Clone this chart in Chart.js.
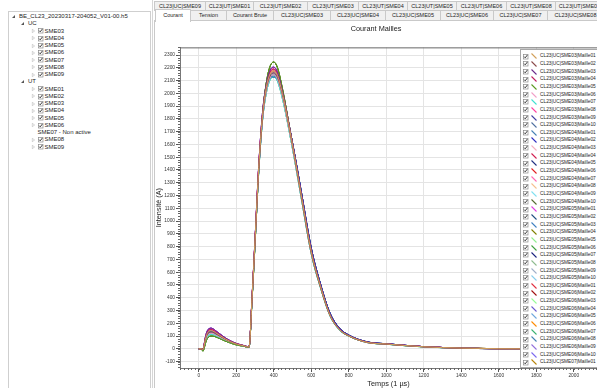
<!DOCTYPE html>
<html>
<head>
<meta charset="utf-8">
<title>Courant Mailles</title>
<script src="https://cdn.jsdelivr.net/npm/chart.js@4.4.1/dist/chart.umd.min.js"></script>
<style>
  body { margin:0; width:597px; height:388px; overflow:hidden; background:#fff; position:relative;
         font-family:"Liberation Sans", Arial, sans-serif; color:#1e1e1e; }
  #tree { position:absolute; left:8px; top:11px; width:141px; height:390px; border:1px solid #cfcfcf; background:#fff; }
  #sep { position:absolute; left:152px; top:0; width:1px; height:388px; background:#d6d6d6; }
  .node { position:absolute; height:7px; line-height:7px; font-size:6px; white-space:nowrap; color:#1e1e1e; }
  .tab { position:absolute; box-sizing:border-box; border:1px solid #c9c9c9; background:#f0f0f0; font-size:5.5px;
         text-align:center; white-space:nowrap; overflow:hidden; color:#1e1e1e; }
  #pane { position:absolute; left:154px; top:20px; width:450px; height:372px; border-left:1px solid #c9c9c9;
          border-top:1px solid #c9c9c9; background:#fff; }
  #chartBox { position:absolute; left:155px; top:20px; width:442px; height:368px; }
  #legend { position:absolute; left:520px; top:49px; width:80px; height:319px; overflow:hidden; background:#fff;
            border:1px solid #a9a9a9; box-sizing:border-box; }
  .item { position:absolute; left:0; height:7.65px; width:80px; font-size:4.8px; line-height:7.65px; white-space:nowrap; }
  .item span { position:absolute; left:19px; top:0; }
  svg { position:absolute; overflow:visible; }
</style>
</head>
<body>
<div id="tree"></div>
<div id="sep"></div>
<div id="tabs"></div>
<div id="pane"></div>
<div id="chartBox"><canvas id="chart" width="442" height="368"></canvas></div>
<div id="legend"></div>

<script>
// time axis (µs) shared by all series
const times = [0, 15, 22, 28, 35, 45, 55, 65, 75, 90,
  110, 140, 170, 205, 240, 268, 285, 300, 320, 340,
  360, 380, 400, 420, 450, 480, 510, 550, 600, 650,
  700, 750, 800, 900, 1000, 1200, 1400, 1600, 1800, 2000];

// current curves (A)
const curveA = [0, 0, -2, 30, 90, 140, 158, 162, 158, 142,
  120, 88, 62, 40, 26, 16, 430, 860, 1440, 1850,
  2070, 2180, 2205, 2165, 1995, 1770, 1530, 1190, 770, 490,
  268, 155, 104, 52, 39, 17, 6, 1, 0, 0];
const curveB = [0, 0, -3, 26, 82, 130, 148, 152, 148, 134,
  113, 83, 59, 38, 25, 15, 425, 850, 1430, 1835,
  2055, 2165, 2190, 2150, 1985, 1760, 1520, 1180, 765, 488,
  266, 154, 103, 51, 38, 17, 6, 1, 0, 0];
const curveC = [0, 0, -5, 22, 74, 120, 138, 142, 139, 126,
  107, 79, 56, 36, 24, 14, 420, 845, 1420, 1825,
  2045, 2150, 2175, 2140, 1975, 1755, 1515, 1175, 760, 485,
  264, 152, 102, 50, 38, 16, 6, 1, 0, 0];
const curveD = [0, 0, -6, 18, 66, 110, 128, 132, 130, 118,
  101, 75, 54, 35, 23, 13, 415, 835, 1405, 1810,
  2030, 2135, 2160, 2125, 1965, 1745, 1505, 1165, 752, 480,
  262, 151, 101, 50, 37, 16, 5, 1, 0, 0];
const curveE = [0, 0, -8, 14, 58, 100, 118, 122, 120, 110,
  95, 71, 51, 33, 22, 12, 410, 825, 1395, 1795,
  2015, 2120, 2145, 2110, 1950, 1730, 1495, 1158, 748, 478,
  260, 150, 100, 49, 37, 16, 5, 1, 0, 0];
const curveF = [0, 0, -10, 10, 50, 90, 108, 112, 111, 103,
  89, 67, 48, 31, 21, 11, 405, 820, 1385, 1785,
  2000, 2105, 2130, 2095, 1935, 1720, 1485, 1150, 742, 474,
  258, 148, 99, 49, 36, 15, 5, 1, 0, 0];
const curveG = [0, 0, -18, 0, 40, 80, 96, 100, 100, 94,
  82, 62, 45, 29, 20, 10, 400, 815, 1400, 1830,
  2080, 2210, 2245, 2200, 2010, 1770, 1520, 1170, 755, 480,
  262, 150, 100, 50, 37, 16, 6, 1, 0, 0];
const curveH = [0, 0, -4, 20, 70, 115, 134, 138, 135, 122,
  104, 77, 55, 36, 24, 14, 410, 830, 1400, 1800,
  2020, 2115, 2130, 2105, 1960, 1760, 1535, 1205, 790, 505,
  280, 163, 108, 54, 40, 17, 6, 1, 0, 0];
const curves = { A: curveA, B: curveB, C: curveC, D: curveD, E: curveE, F: curveF, G: curveG, H: curveH };

// series: module / maille names, colours and which curve each one follows
const modules = ['SME03', 'SME04', 'SME05', 'SME06'];
const mailles = ['Maille01', 'Maille02', 'Maille03', 'Maille04', 'Maille05',
  'Maille06', 'Maille07', 'Maille08', 'Maille09', 'Maille10'];
const seriesColors = [
  '#d2a05a', '#8b4a4a', '#6a2a8a', '#c02060', '#5a9a20', '#f0a0c8', '#40e0d0', '#ff40a0', '#4040a0', '#5070a0',
  '#4682b4', '#3030c0', '#f4b0c0', '#d02050', '#203080', '#e02020', '#ff69b4', '#f5c090', '#80e0f0', '#556b2f',
  '#e040e0', '#205080', '#4080c0', '#808000', '#90ee90', '#40a040', '#1a237e', '#8fbc8f', '#a0b0c8', '#87ceeb',
  '#e03040', '#a01010', '#98fb98', '#6a5acd', '#6fa8dc', '#ff8c00', '#3cb371', '#4682b4', '#9370db', '#7b68ee',
  '#b8860b'];
const seriesCurve = 'CDABGEFBHD' + 'EHCBHCDEFG' + 'AHEGFGHFED' + 'BCGAEDFHAA' + 'C';

const xTicks = [0, 200, 400, 600, 800, 1000, 1200, 1400, 1600, 1800, 2000];
const yTicks = [-100, 0, 100, 200, 300, 400, 500, 600, 700, 800, 900, 1000, 1100, 1200,
  1300, 1400, 1500, 1600, 1700, 1800, 1900, 2000, 2100, 2200, 2300];

// tab captions
const tabRow1 = ['CL23|UC|SME09', 'CL23|UT|SME01', 'CL23|UT|SME02', 'CL23|UT|SME03', 'CL23|UT|SME04',
  'CL23|UT|SME05', 'CL23|UT|SME06', 'CL23|UT|SME08', 'CL23|UT|SME09'];
const tabRow2 = ['Courant', 'Tension', 'Courant Brute', 'CL23|UC|SME03', 'CL23|UC|SME04',
  'CL23|UC|SME05', 'CL23|UC|SME06', 'CL23|UC|SME07', 'CL23|UC|SME08'];
const tabEdges1 = [154, 205, 253, 307, 358, 407, 456, 506, 555, 603];
const tabEdges2 = [155, 190, 226, 273, 330, 385, 440, 493, 547, 603];

// tree rows: [level, text, checked]
const treeRows = [
  [0, 'BE_CL23_20230317-204052_V01-00.h5'],
  [1, 'UC'],
  [2, 'SME03', true], [2, 'SME04', true], [2, 'SME05', true], [2, 'SME06', true],
  [2, 'SME07', true], [2, 'SME08', true], [2, 'SME09', true],
  [1, 'UT'],
  [2, 'SME01', true], [2, 'SME02', true], [2, 'SME03', true], [2, 'SME04', true],
  [2, 'SME05', true], [2, 'SME06', true],
  [3, 'SME07 - Non active'],
  [2, 'SME08', true], [2, 'SME09', true]
];

const checkSvg = (x, y) =>
  `<svg style="left:${x}px;top:${y}px" width="5" height="5"><rect x="0.5" y="0.5" width="4.5" height="4.5" fill="#fff" stroke="#8a8a8a" stroke-width="0.7"/>` +
  `<path d="M1.1 2.6 L2.2 3.8 L4.3 1.1" fill="none" stroke="#222" stroke-width="0.9"/></svg>`;

// build tree
const tree = document.getElementById('tree');
treeRows.forEach((r, i) => {
  const top = 1 + i * 7.25;
  let html = '';
  if (r[0] === 0 || r[0] === 1) {
    const ex = r[0] === 0 ? 3 : 12;
    html += `<svg style="left:${ex}px;top:${top + 2}px" width="3" height="3"><path d="M3 0 L3 3 L0 3 Z" fill="#555"/></svg>`;
    html += `<div class="node" style="left:${ex + 7}px;top:${top}px">${r[1]}</div>`;
  } else if (r[0] === 2) {
    html += `<svg style="left:23px;top:${top + 1.5}px" width="3" height="4"><path d="M0.3 0.3 L2.6 2 L0.3 3.7 Z" fill="none" stroke="#aaa" stroke-width="0.5"/></svg>`;
    html += checkSvg(28.5, top + 0.8);
    html += `<div class="node" style="left:35.5px;top:${top}px">${r[1]}</div>`;
  } else {
    html += `<div class="node" style="left:28.5px;top:${top}px">${r[1]}</div>`;
  }
  tree.insertAdjacentHTML('beforeend', html);
});

// build tabs
const tabs = document.getElementById('tabs');
tabRow1.forEach((t, i) => {
  const l = tabEdges1[i], w = tabEdges1[i + 1] - l;
  tabs.insertAdjacentHTML('beforeend',
    `<div class="tab" style="left:${l}px;top:1px;width:${w + 1}px;height:10px;line-height:8px">${t}</div>`);
});
tabRow2.forEach((t, i) => {
  const l = tabEdges2[i], w = tabEdges2[i + 1] - l;
  const sel = i === 0;
  tabs.insertAdjacentHTML('beforeend',
    `<div class="tab" style="left:${l}px;top:${sel ? 9 : 10}px;width:${w + 1}px;height:${sel ? 13 : 11}px;line-height:${sel ? 10 : 9}px;` +
    `${sel ? 'background:#fff;border-bottom:none;z-index:3' : ''}">${t}</div>`);
});

// datasets
const labels = [];
modules.forEach(m => mailles.forEach(mm => labels.push('CL23|UC|' + m + '|' + mm)));
labels.push('CL23|UC|SME07|Maille01');

const datasets = labels.map((lab, i) => ({
  label: lab,
  data: times.map((t, k) => ({ x: t, y: curves[seriesCurve[i]][k] })),
  borderColor: seriesColors[i],
  backgroundColor: seriesColors[i],
  borderWidth: 1,
  pointRadius: 0,
  cubicInterpolationMode: 'monotone',
  fill: false
}));

// small ticks between the labelled ones + top frame line
const minorTicks = {
  id: 'minorTicks',
  afterDraw(chart) {
    const { ctx, chartArea, scales } = chart;
    ctx.save();
    ctx.strokeStyle = '#666';
    ctx.lineWidth = 1;
    ctx.beginPath();
    for (let v = -100; v <= scales.x.max; v += 20) {
      const px = Math.round(scales.x.getPixelForValue(v)) + 0.5;
      ctx.moveTo(px, chartArea.bottom);
      ctx.lineTo(px, chartArea.bottom + 2);
    }
    for (let v = -140; v <= scales.y.max; v += 20) {
      const py = Math.round(scales.y.getPixelForValue(v)) + 0.5;
      ctx.moveTo(chartArea.left - 2, py);
      ctx.lineTo(chartArea.left, py);
    }
    ctx.moveTo(chartArea.left, chartArea.top + 0.5);
    ctx.lineTo(chartArea.right, chartArea.top + 0.5);
    ctx.stroke();
    ctx.restore();
  }
};

const chart = new Chart(document.getElementById('chart'), {
  type: 'line',
  data: { datasets },
  options: {
    responsive: false,
    animation: false,
    devicePixelRatio: 1,
    layout: { padding: 0 },
    plugins: {
      legend: { display: false },
      tooltip: { enabled: false },
      title: {
        display: true,
        text: 'Courant Mailles',
        color: '#222',
        font: { family: 'Liberation Sans', size: 7.3, weight: 'normal' },
        padding: { top: 5, bottom: 13.6 }
      }
    },
    scales: {
      x: {
        type: 'linear',
        min: -100,
        max: 2124,
        afterBuildTicks: s => { s.ticks = xTicks.map(v => ({ value: v })); },
        afterFit: s => { s.height = 20; },
        ticks: { color: '#333', font: { family: 'Liberation Sans', size: 4.8 }, padding: 1, maxRotation: 0,
                 autoSkip: false, callback: v => String(v) },
        grid: { color: '#e4e4e4', tickColor: '#555', tickLength: 4 },
        border: { color: '#777' },
        title: { display: true, text: 'Temps (1 µs)', color: '#222', font: { family: 'Liberation Sans', size: 7.3 }, padding: 0 }
      },
      y: {
        min: -150,
        max: 2360,
        afterBuildTicks: s => { s.ticks = yTicks.map(v => ({ value: v })); },
        afterFit: s => { s.width = 25; },
        ticks: { color: '#333', font: { family: 'Liberation Sans', size: 4.8 }, padding: 1, autoSkip: false,
                 callback: v => String(v) },
        grid: { color: '#e4e4e4', tickColor: '#555', tickLength: 4 },
        border: { color: '#777' },
        title: { display: true, text: 'Intensité (A)', color: '#222', font: { family: 'Liberation Sans', size: 7.3 }, padding: 0 }
      }
    }
  },
  plugins: [minorTicks]
});

// overlay legend, built from the chart's datasets
const legend = document.getElementById('legend');
chart.data.datasets.forEach((d, i) => {
  const top = 2.3 + i * 7.65;
  legend.insertAdjacentHTML('beforeend',
    `<div class="item" style="top:${top}px">` +
    checkSvg(2, 1.3) +
    `<svg style="left:10px;top:1px" width="6" height="6"><line x1="0.5" y1="0.5" x2="5.5" y2="5.5" stroke="${d.borderColor}" stroke-width="1.1"/></svg>` +
    `<span>${d.label}</span></div>`);
});
</script>
</body>
</html>
